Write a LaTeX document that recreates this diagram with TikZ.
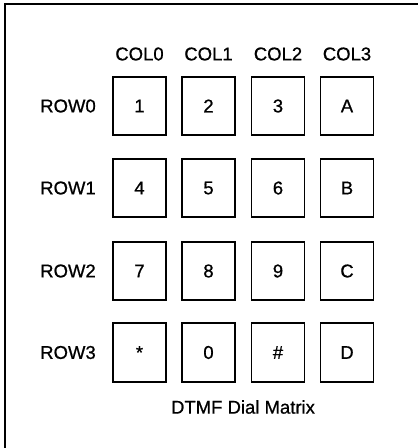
\documentclass[tikz,border=0pt]{standalone}
\usepackage{fontspec}
\setmainfont{Liberation Sans}[UprightFeatures={FakeBold=0.8}]
\begin{document}
\begin{tikzpicture}[x=1pt,y=-1pt,
    key/.style={draw,line width=1.8pt,minimum width=53pt,minimum height=58.5pt,inner sep=0pt},
    lbl/.style={inner sep=0pt}]
  \useasboundingbox (0,0) rectangle (418,448);
  \fontsize{18.5}{21}\selectfont
  \draw[line width=2.2pt] (418,4) -- (5,4) -- (5,448);
  \node[lbl] (c0) at (139.5,54) {COL0};
  \node[lbl] (c1) at (208.5,54) {COL1};
  \node[lbl] (c2) at (278,54) {COL2};
  \node[lbl] (c3) at (347,54) {COL3};
  \node[lbl] (r0) at (68,106) {ROW0};
  \node[lbl] (r1) at (68,188) {ROW1};
  \node[lbl] (r2) at (68,271) {ROW2};
  \node[lbl] (r3) at (68,352.5) {ROW3};
  \node[key] (k00) at (139.5,106) {1};
  \node[key] (k01) at (208.5,106) {2};
  \node[key] (k02) at (278,106) {3};
  \node[key] (k03) at (347,106) {A};
  \node[key] (k10) at (139.5,188) {4};
  \node[key] (k11) at (208.5,188) {5};
  \node[key] (k12) at (278,188) {6};
  \node[key] (k13) at (347,188) {B};
  \node[key] (k20) at (139.5,271) {7};
  \node[key] (k21) at (208.5,271) {8};
  \node[key] (k22) at (278,271) {9};
  \node[key] (k23) at (347,271) {C};
  \node[key] (k30) at (139.5,352.5) {*};
  \node[key] (k31) at (208.5,352.5) {0};
  \node[key] (k32) at (278,352.5) {\#};
  \node[key] (k33) at (347,352.5) {D};
  \node[lbl] (title) at (243,407) {DTMF Dial Matrix};
\end{tikzpicture}
\end{document}
